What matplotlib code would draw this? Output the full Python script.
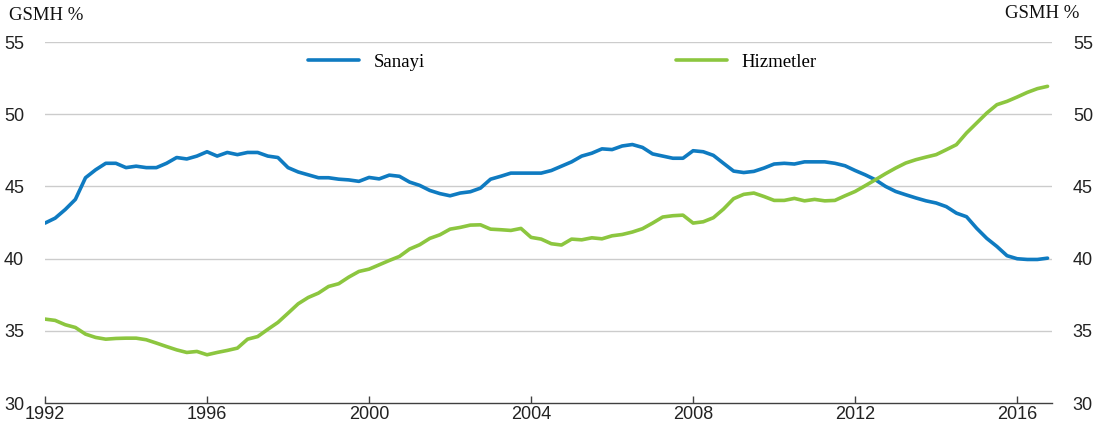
import matplotlib
matplotlib.use("Agg")
import matplotlib.pyplot as plt
import numpy as np

start_year = 1992
quarters_per_year = 4

sanayi = [
    42.46, 42.8, 43.4, 44.1, 45.6, 46.15, 46.6, 46.6,
    46.3, 46.4, 46.3, 46.3, 46.6, 47.0, 46.9, 47.1,
    47.4, 47.1, 47.35, 47.2, 47.35, 47.35, 47.1, 47.0,
    46.3, 46.0, 45.8, 45.6, 45.6, 45.5, 45.45, 45.35,
    45.62, 45.52, 45.78, 45.7, 45.3, 45.07, 44.72, 44.5,
    44.35, 44.54, 44.63, 44.88, 45.5, 45.7, 45.92, 45.92,
    45.92, 45.92, 46.1, 46.4, 46.7, 47.1, 47.3, 47.6,
    47.55, 47.8, 47.9, 47.7, 47.25, 47.1, 46.95, 46.95,
    47.47, 47.4, 47.15, 46.6, 46.06, 45.96, 46.04, 46.27,
    46.55, 46.6, 46.55, 46.7, 46.7, 46.7, 46.6, 46.43,
    46.1, 45.8, 45.46, 45.0, 44.65, 44.42, 44.2, 44.0,
    43.85, 43.6, 43.15, 42.9, 42.1, 41.4, 40.84, 40.2,
    39.99, 39.94, 39.94, 40.03,
]

hizmetler = [
    35.81, 35.72, 35.42, 35.23, 34.77, 34.54, 34.42, 34.47,
    34.49, 34.49, 34.38, 34.15, 33.91, 33.68, 33.5, 33.57,
    33.34, 33.5, 33.64, 33.8, 34.42, 34.6, 35.1, 35.58,
    36.22, 36.87, 37.31, 37.61, 38.07, 38.26, 38.72, 39.11,
    39.27, 39.57, 39.87, 40.15, 40.66, 40.96, 41.4, 41.65,
    42.04, 42.16, 42.32, 42.34, 42.04, 42.0, 41.95, 42.09,
    41.47, 41.35, 41.03, 40.94, 41.35, 41.3, 41.44, 41.37,
    41.58, 41.67, 41.84, 42.07, 42.46, 42.88, 42.97, 43.01,
    42.46, 42.55, 42.83, 43.43, 44.15, 44.45, 44.54, 44.3,
    44.03, 44.03, 44.17, 44.0, 44.1, 44.0, 44.03, 44.35,
    44.65, 45.05, 45.46, 45.88, 46.27, 46.62, 46.85, 47.03,
    47.2, 47.54, 47.89, 48.7, 49.39, 50.08, 50.66, 50.89,
    51.19, 51.51, 51.77, 51.93,
]

series_names = ["Sanayi", "Hizmetler"]
x_ticks = [1992, 1996, 2000, 2004, 2008, 2012, 2016]
y_ticks = [30, 35, 40, 45, 50, 55]
y_label = "GSMH %"

x = start_year + np.arange(len(sanayi)) / quarters_per_year

blue = "#0f7bc1"
green = "#8cc63f"
serif = ["Liberation Serif", "DejaVu Serif"]
sans = ["Liberation Sans", "DejaVu Sans"]

fig = plt.figure(figsize=(10.97, 4.32), dpi=100)
ax = fig.add_axes([45 / 1097, 1 - 403 / 432, (1052 - 45) / 1097, (403 - 42) / 432])

l1, = ax.plot(x, sanayi, color=blue, lw=2.6, solid_capstyle="round", zorder=3)
l2, = ax.plot(x, hizmetler, color=green, lw=2.6, solid_capstyle="round", zorder=3)

ax.set_xlim(1992, 2016.86)
ax.set_ylim(30, 55)
ax.set_xticks(x_ticks)
ax.set_yticks(y_ticks)
ax.set_xticklabels([str(t) for t in x_ticks], fontfamily=sans, fontsize=13)
ax.set_yticklabels([str(t) for t in y_ticks], fontfamily=sans, fontsize=13)

for s in ["left", "right", "top"]:
    ax.spines[s].set_visible(False)
ax.spines["bottom"].set_color("#404040")
ax.spines["bottom"].set_linewidth(1.0)

ax.tick_params(axis="x", direction="in", length=5, width=1, color="#404040",
               pad=2, labelcolor="#222222")
ax.tick_params(axis="y", length=0, pad=15, labelcolor="#222222",
               labelleft=True, labelright=True)

for yv in y_ticks[1:]:
    ax.axhline(yv, color="#cccccc", lw=1.0, zorder=1)

fig.text(9 / 1097, 1 - 16 / 432, y_label, fontfamily=serif, fontsize=13.5,
         va="center", ha="left", color="#111111")
fig.text(1079 / 1097, 1 - 14 / 432, y_label, fontfamily=serif, fontsize=13.5,
         va="center", ha="right", color="#111111")

leg = fig.legend([l1, l2], series_names, ncol=2, loc="center left",
                 bbox_to_anchor=(308 / 1097, 1 - 62 / 432), frameon=False,
                 borderpad=0, borderaxespad=0, handlelength=2.7,
                 handletextpad=0.8, columnspacing=13.4,
                 prop={"family": serif, "size": 13.5})

fig.savefig("out.png", dpi=100)
